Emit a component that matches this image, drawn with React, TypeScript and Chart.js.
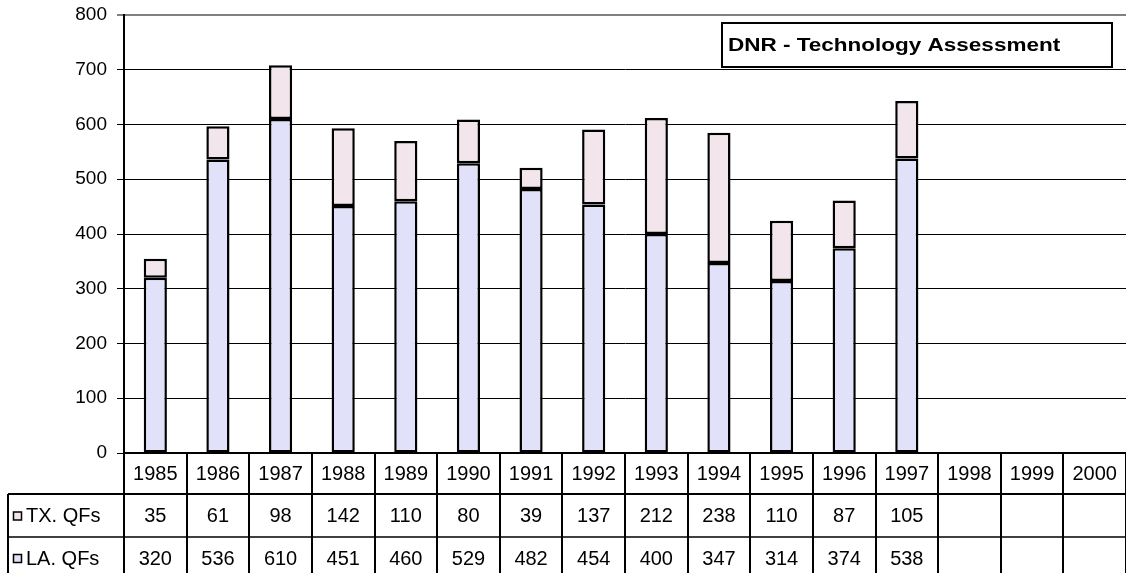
import React, { useEffect, useRef } from 'react';
import { Chart, registerables } from 'chart.js';

Chart.register(...registerables);

const years = ['1985', '1986', '1987', '1988', '1989', '1990', '1991', '1992', '1993', '1994', '1995', '1996', '1997', '1998', '1999', '2000'];
const txQFs: (number | null)[] = [35, 61, 98, 142, 110, 80, 39, 137, 212, 238, 110, 87, 105, null, null, null];
const laQFs: (number | null)[] = [320, 536, 610, 451, 460, 529, 482, 454, 400, 347, 314, 374, 538, null, null, null];
const seriesNames = ['TX. QFs', 'LA. QFs'];
const titleText = 'DNR - Technology Assessment';
const yMax = 800;
const yStep = 100;

const FONT = "'Liberation Sans', Arial, sans-serif";
const TX_COLOR = '#F2E6EC';
const LA_COLOR = '#E1E1FA';

const tablePlugin = {
  id: 'dataTable',
  afterDraw(chart: any) {
    const ctx = chart.ctx as CanvasRenderingContext2D;
    const area = chart.chartArea;
    const xs = chart.scales.x;
    const n = years.length;
    const colW = (area.right - area.left) / n;
    const r0 = area.bottom;
    const r1 = r0 + 41;
    const r2 = r1 + 43;
    const r3 = chart.height + 5;
    const leftEdge = 8;
    ctx.save();
    ctx.strokeStyle = '#000';
    ctx.lineCap = 'butt';
    ctx.lineWidth = 2;
    ctx.beginPath();
    ctx.moveTo(area.left, r0);
    ctx.lineTo(area.right, r0);
    ctx.moveTo(leftEdge, r1);
    ctx.lineTo(area.right, r1);
    ctx.stroke();
    ctx.lineWidth = 1.5;
    ctx.beginPath();
    ctx.moveTo(leftEdge, r2);
    ctx.lineTo(area.right, r2);
    ctx.stroke();
    ctx.lineWidth = 2;
    ctx.beginPath();
    ctx.moveTo(leftEdge, r1);
    ctx.lineTo(leftEdge, r3);
    for (let i = 0; i <= n; i++) {
      const x = Math.round(area.left + i * colW);
      ctx.moveTo(x, r0);
      ctx.lineTo(x, r3);
    }
    ctx.stroke();
    ctx.fillStyle = '#000';
    ctx.font = `20px ${FONT}`;
    ctx.textAlign = 'center';
    ctx.textBaseline = 'middle';
    const rowsData = [txQFs, laQFs];
    const rowMid = [(r1 + r2) / 2 + 1, r2 + 22];
    for (let i = 0; i < n; i++) {
      const cx = xs.getPixelForValue(i);
      ctx.fillText(years[i], cx, (r0 + r1) / 2 + 1);
      rowsData.forEach((arr, k) => {
        const v = arr[i];
        if (v !== null && v !== undefined) ctx.fillText(String(v), cx, rowMid[k]);
      });
    }
    const colors = [TX_COLOR, LA_COLOR];
    ctx.textAlign = 'left';
    seriesNames.forEach((name, k) => {
      const cy = rowMid[k];
      ctx.fillStyle = colors[k];
      ctx.fillRect(13.5, cy - 4.5, 8, 8);
      ctx.lineWidth = 1.5;
      ctx.strokeStyle = '#000';
      ctx.strokeRect(13.5, cy - 4.5, 8, 8);
      ctx.fillStyle = '#000';
      ctx.fillText(name, 26, cy);
    });
    const bx = 722, by = 23, bw = 390, bh = 44;
    ctx.fillStyle = '#fff';
    ctx.fillRect(bx, by, bw, bh);
    ctx.lineWidth = 2;
    ctx.strokeRect(bx, by, bw, bh);
    ctx.fillStyle = '#000';
    ctx.font = `bold 18px ${FONT}`;
    ctx.textAlign = 'left';
    ctx.save();
    ctx.translate(bx + 6, by + bh / 2 + 1);
    ctx.scale(1.25, 1);
    ctx.fillText(titleText, 0, 0);
    ctx.restore();
    ctx.restore();
  },
};

export default function App() {
  const ref = useRef<HTMLCanvasElement | null>(null);
  useEffect(() => {
    if (!ref.current) return;
    Chart.defaults.font.family = FONT;
    const chart = new Chart(ref.current, {
      type: 'bar',
      data: {
        labels: years,
        datasets: [
          {
            label: seriesNames[1],
            data: laQFs,
            backgroundColor: LA_COLOR,
            borderColor: '#000',
            borderWidth: 2.5,
            borderSkipped: false,
            inflateAmount: 0,
            categoryPercentage: 1,
            barPercentage: 0.37,
          },
          {
            label: seriesNames[0],
            data: txQFs,
            backgroundColor: TX_COLOR,
            borderColor: '#000',
            borderWidth: 2.5,
            borderSkipped: false,
            inflateAmount: 0,
            categoryPercentage: 1,
            barPercentage: 0.37,
          },
        ],
      },
      options: {
        responsive: false,
        animation: false,
        layout: { padding: { top: 15, bottom: 120, left: 0, right: 0 } },
        plugins: { legend: { display: false }, tooltip: { enabled: false }, title: { display: false } },
        scales: {
          x: { display: false, stacked: true },
          y: {
            stacked: true,
            min: 0,
            max: yMax,
            ticks: { stepSize: yStep, color: '#000', font: { size: 19 }, padding: 10 },
            grid: {
              color: (c: any) => (c.tick && c.tick.value === yMax ? '#808080' : '#000'),
              lineWidth: (c: any) => (c.tick && c.tick.value === yMax ? 2 : 1),
              tickLength: 7,
            },
            border: { color: '#000', width: 2 },
            afterFit: (scale: any) => {
              scale.width = 124;
              scale.paddingTop = 0;
              scale.paddingBottom = 0;
            },
          },
        },
      },
      plugins: [tablePlugin],
    });
    return () => chart.destroy();
  }, []);
  return (
    <div style={{ position: 'absolute', left: 0, top: 0, width: 1126, height: 573, background: '#fff' }}>
      <canvas ref={ref} width={1126} height={573} style={{ display: 'block' }} />
    </div>
  );
}
